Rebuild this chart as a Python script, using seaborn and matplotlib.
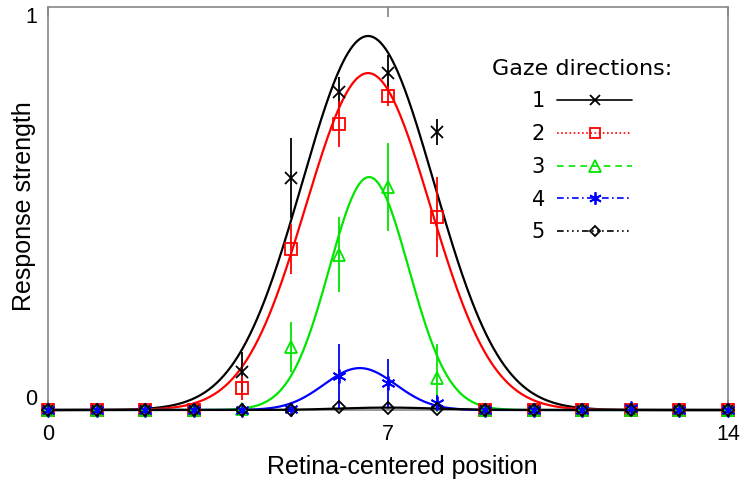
import numpy as np
import pandas as pd
import matplotlib
matplotlib.use("Agg")
import matplotlib.pyplot as plt
from matplotlib.lines import Line2D
import seaborn as sns

# ---- data ----
positions = list(range(15))
gaze_labels = ["1", "2", "3", "4", "5"]

resp_g1 = [0, 0, 0, 0, 0.094, 0.576, 0.79, 0.836, 0.69, 0, 0, 0, 0, 0, 0]
resp_g2 = [0, 0, 0, 0, 0.055, 0.40, 0.71, 0.78, 0.479, 0, 0, 0, 0, 0, 0]
resp_g3 = [0, 0, 0, 0, 0.003, 0.157, 0.385, 0.553, 0.08, 0, 0, 0, 0, 0, 0]
resp_g4 = [0, 0, 0, 0, 0, 0.003, 0.085, 0.067, 0.017, 0, 0, 0, 0.006, 0, 0]
resp_g5 = [0, 0, 0, 0, 0, 0, 0.008, 0.005, 0.003, 0, 0, 0, 0, 0, 0]

err_g1 = [0, 0, 0, 0, 0.05, 0.10, 0.037, 0.045, 0.032, 0, 0, 0, 0, 0, 0]
err_g2 = [0, 0, 0, 0, 0.03, 0.062, 0.057, 0.025, 0.10, 0, 0, 0, 0, 0, 0]
err_g3 = [0, 0, 0, 0, 0, 0.062, 0.093, 0.11, 0.085, 0, 0, 0, 0, 0, 0]
err_g4 = [0, 0, 0, 0, 0, 0, 0.08, 0.06, 0.02, 0, 0, 0, 0, 0, 0]
err_g5 = [0, 0, 0, 0, 0, 0, 0, 0, 0, 0, 0, 0, 0, 0, 0]

# Gaussian fit parameters
fit_peak = [0.928, 0.836, 0.578, 0.104, 0.006]
fit_center = [6.59, 6.59, 6.61, 6.42, 7.0]
fit_width = [1.36, 1.28, 0.82, 0.74, 1.0]

responses = [resp_g1, resp_g2, resp_g3, resp_g4, resp_g5]
errors = [err_g1, err_g2, err_g3, err_g4, err_g5]

colors = ["black", "#ff0000", "#00e600", "#0000ff", "black"]
markers = ["x", "s", "^", (6, 2, 0), "D"]
msizes = [8, 8, 9, 10, 6]
legend_ls = ["-", (0, (1, 1.5)), (0, (4, 3)), (0, (4, 2, 1, 2)), (0, (4, 2, 1, 2, 1, 2, 1, 2))]

# ---- figure ----
sns.set_theme(style="white")
plt.rcParams["font.family"] = ["Liberation Sans", "DejaVu Sans"]
plt.rcParams["text.color"] = "black"
plt.rcParams["axes.labelcolor"] = "black"
plt.rcParams["xtick.labelcolor"] = "black"
plt.rcParams["ytick.labelcolor"] = "black"

fig = plt.figure(figsize=(7.42, 4.79), dpi=100)
ax = fig.add_axes([48 / 742, 1 - 410 / 479, (728 - 48) / 742, (410 - 7) / 479])

xs = np.linspace(0, 14, 561)
rows = []
for g, pk, c, w in zip(gaze_labels, fit_peak, fit_center, fit_width):
    for x in xs:
        rows.append({"pos": x, "resp": pk * np.exp(-(x - c) ** 2 / (2 * w ** 2)), "gaze": g})
curves = pd.DataFrame(rows)

sns.lineplot(data=curves, x="pos", y="resp", hue="gaze", palette=dict(zip(gaze_labels, colors)),
             linewidth=1.6, legend=False, ax=ax, clip_on=False, zorder=3)

for i, g in enumerate(gaze_labels):
    mfc = colors[i] if markers[i] in ("x", (6, 2, 0)) else "none"
    ax.errorbar(positions, responses[i], yerr=errors[i], fmt="none", ecolor=colors[i],
                elinewidth=1.3, capsize=0, zorder=4, clip_on=False)
    ax.plot(positions, responses[i], linestyle="none", marker=markers[i], ms=msizes[i],
            mec=colors[i], mfc=mfc, mew=1.3, zorder=5 + i, clip_on=False)

ax.set_xlim(0, 14)
ax.set_ylim(0, 1)
ax.set_xticks([0, 7, 14])
ax.set_xticklabels(["0", "7", "14"])
ax.set_yticks([0, 1])
ax.set_yticklabels(["0", "1"])
ax.tick_params(axis="x", which="both", direction="in", length=7, color="#888888",
               top=True, bottom=True, labelsize=15.5, pad=10, labelcolor="black")
ax.tick_params(axis="y", length=0, labelsize=15.5, pad=8, labelcolor="black")
ylabs = ax.get_yticklabels()
ylabs[0].set_verticalalignment("bottom")
ylabs[1].set_verticalalignment("top")

for sp in ax.spines.values():
    sp.set_color("#888888")
    sp.set_linewidth(1.2)
    sp.set_visible(True)

ax.set_xlabel("Retina-centered position", fontsize=18, color="black")
ax.xaxis.set_label_coords((402 - 48) / 680, -(474 - 410) / 403)
ax.xaxis.label.set_verticalalignment("baseline")
ax.set_ylabel("Response strength", fontsize=18, color="black")
ax.yaxis.set_label_coords((36 - 48) / 680, 0.505)

handles = [Line2D([0], [0], color=colors[i], linestyle=legend_ls[i], linewidth=1.2,
                  marker=markers[i], ms=msizes[i] * 0.9,
                  mfc=(colors[i] if markers[i] in ("x", (6, 2, 0)) else "none"),
                  mec=colors[i], mew=1.3)
           for i in range(5)]
leg = ax.legend(handles, gaze_labels, title="Gaze directions:", loc="upper center",
                bbox_to_anchor=(582 / 742, 1 - 40 / 479), bbox_transform=fig.transFigure,
                frameon=False, markerfirst=False, numpoints=1, handlelength=3.6,
                handletextpad=0.6, labelspacing=0.61,
                prop={"family": "DejaVu Sans", "size": 15}, labelcolor="black")
leg.get_title().set_fontsize(16)
leg.get_title().set_fontfamily("DejaVu Sans")
leg.get_title().set_color("black")

fig.savefig("out.png", dpi=100)
